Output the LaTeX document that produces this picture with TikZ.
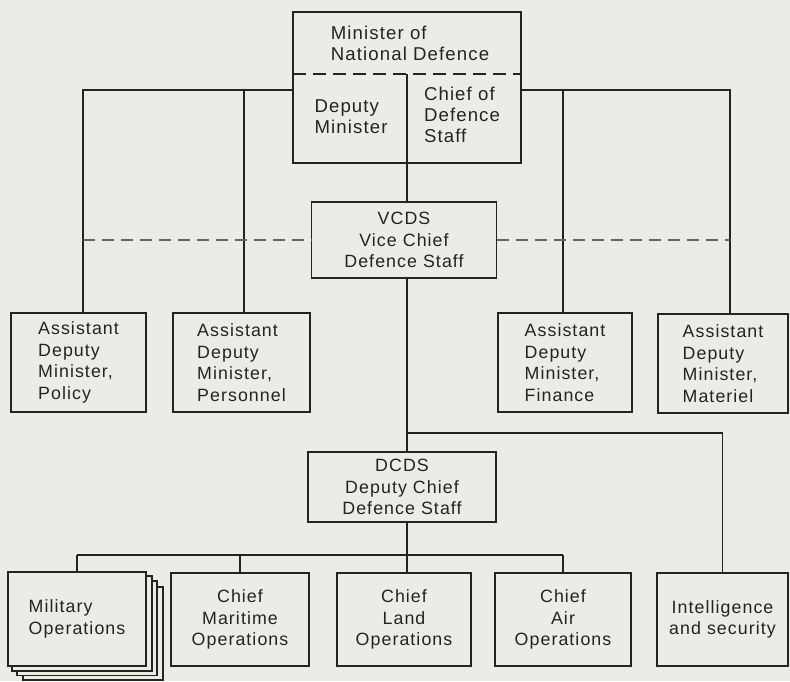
\documentclass[tikz,border=0pt]{standalone}
\usepackage{fontspec}
\setmainfont{Liberation Sans}[LetterSpace=6]
\definecolor{paper}{RGB}{236,236,231}
\definecolor{ink}{RGB}{35,35,35}
\definecolor{dashink}{RGB}{100,100,100}
\begin{document}
\begin{tikzpicture}[x=1pt,y=-1pt,
  unit/.style={draw=ink, line width=1.8pt, fill=paper, rectangle, inner sep=0pt,
    outer sep=0pt, text=ink, font=\fontsize{17.8}{21.5}\selectfont},
  heading/.style={inner sep=0pt, align=left, text=ink, font=\fontsize{18.6}{21}\selectfont},
  link/.style={draw=ink, line width=1.2pt},
  liaison/.style={draw=dashink, line width=1.3pt, dash pattern=on 12pt off 7pt},
  split line/.style={draw=ink, line width=1.3pt, dash pattern=on 13pt off 7pt},
  sheet/.style={draw=ink, line width=1.4pt, fill=paper}]

% page
\fill[paper] (0,0) rectangle (790,681);
\useasboundingbox (0,0) rectangle (790,681);

% minister's office, split into two halves
\node[unit, minimum width=228pt, minimum height=151pt] (mnd) at (407,87.5) {};
\node[heading] (mndtext) at (410,43) {Minister of\\National Defence};
\node[heading] (dm) at (351,117) {Deputy\\Minister};
\node[heading] (cds) at (462,115) {Chief of\\Defence\\Staff};

% vice chief
\node[unit, align=center, minimum width=185pt, minimum height=76pt] (vcds) at (404,240)
  {VCDS\\Vice Chief\\Defence Staff};

% assistant deputy ministers
\node[unit, align=left, minimum width=135pt, minimum height=99pt] (policy) at (78.5,362.5)
  {Assistant\\Deputy\\Minister,\\Policy};
\node[unit, align=left, minimum width=137pt, minimum height=99pt] (personnel) at (241.5,362.5)
  {Assistant\\Deputy\\Minister,\\Personnel};
\node[unit, align=left, minimum width=134pt, minimum height=99pt] (finance) at (565,362.5)
  {Assistant\\Deputy\\Minister,\\Finance};
\node[unit, align=left, minimum width=130pt, minimum height=99pt] (materiel) at (723,363.5)
  {Assistant\\Deputy\\Minister,\\Materiel};

% deputy chief
\node[unit, align=center, minimum width=188pt, minimum height=70pt] (dcds) at (402,487)
  {DCDS\\Deputy Chief\\Defence Staff};

% stacked sheets behind military operations
\draw[sheet] (23,587) rectangle (163,680);
\draw[sheet] (17,581) rectangle (157,675.5);
\draw[sheet] (12,576) rectangle (152,671);

% operational branches
\node[unit, align=left, minimum width=138pt, minimum height=94pt] (mil) at (77,619)
  {Military\\Operations};
\node[unit, align=center, minimum width=138pt, minimum height=93pt] (maritime) at (240,619.5)
  {Chief\\Maritime\\Operations};
\node[unit, align=center, minimum width=134pt, minimum height=93pt] (land) at (404,619.5)
  {Chief\\Land\\Operations};
\node[unit, align=center, minimum width=136pt, minimum height=93pt] (air) at (563,619.5)
  {Chief\\Air\\Operations};
\node[unit, align=center, minimum width=131pt, minimum height=93pt] (intel) at (722.5,619.5)
  {Intelligence\\and security};

% reference points for the connectors
\coordinate (split) at (407,74);
\coordinate (armL) at (83,90);
\coordinate (armLi) at (244,90);
\coordinate (armRi) at (563,90);
\coordinate (armR) at (730,90);
\coordinate (liaisonL) at (83,240);
\coordinate (liaisonR) at (730,240);
\coordinate (intelarm) at (407,433);
\coordinate (bus) at (407,555);

% inside the minister's office
\draw[split line] (mnd.west |- split) -- (mnd.east |- split);
\draw[link] (split) -- (split |- vcds.north);

% deputy minister's side and defence staff's side
\draw[link] (mnd.west |- armL) -- (armL) -- (armL |- policy.north);
\draw[link] (armLi) -- (armLi |- personnel.north);
\draw[link] (mnd.east |- armR) -- (armR) -- (armR |- materiel.north);
\draw[link] (armRi) -- (armRi |- finance.north);

% liaison with the vice chief
\draw[liaison] (liaisonL) -- (vcds.west |- liaisonL);
\draw[liaison] (vcds.east |- liaisonR) -- (liaisonR);

% chain of command downwards
\draw[link] (split |- vcds.south) -- (split |- dcds.north);
\draw[link] (intelarm) -| (intel.north);
\draw[link] (split |- dcds.south) -- (bus);
\draw[link] (mil.north |- bus) -- (air.north |- bus);
\draw[link] (mil.north |- bus) -- (mil.north);
\draw[link] (maritime.north |- bus) -- (maritime.north);
\draw[link] (bus) -- (bus |- land.north);
\draw[link] (air.north |- bus) -- (air.north);
\end{tikzpicture}
\end{document}
